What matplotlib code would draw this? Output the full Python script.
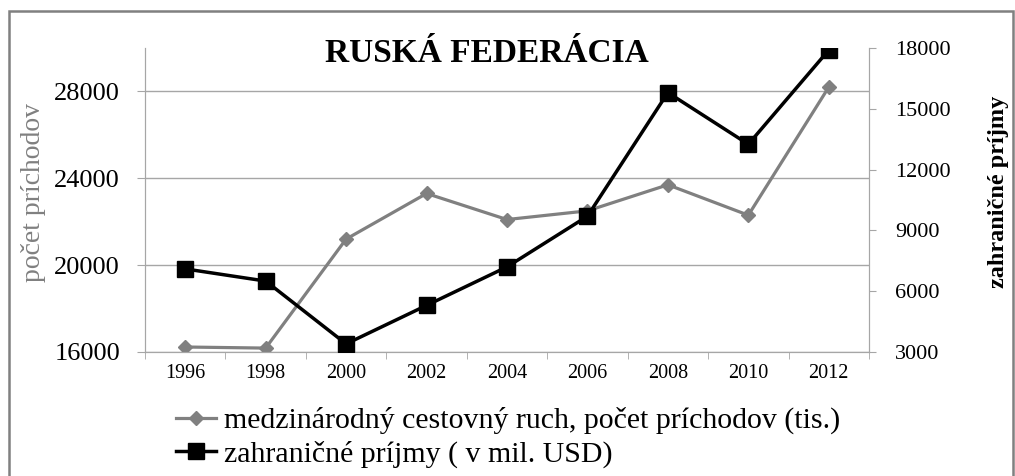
import matplotlib.pyplot as plt
from matplotlib.patches import Rectangle
from matplotlib.lines import Line2D

years = ["1996", "1998", "2000", "2002", "2004", "2006", "2008", "2010", "2012"]
arrivals = [16230, 16180, 21200, 23300, 22100, 22500, 23700, 22300, 28200]
receipts = [7100, 6500, 3400, 5300, 7200, 9700, 15800, 13250, 17900]
left_ticks = [16000, 20000, 24000, 28000]
right_ticks = [3000, 6000, 9000, 12000, 15000, 18000]

GRAY = "#808080"
AXGRAY = "#a6a6a6"
plt.rcParams["font.family"] = ["Liberation Serif", "DejaVu Serif"]

fig = plt.figure(figsize=(10.15, 4.76), dpi=100)
fig.patches.append(Rectangle((9 / 1015, -0.05), 1004 / 1015, 1.05 - 11 / 476,
                             transform=fig.transFigure, fill=False,
                             edgecolor=GRAY, linewidth=1.8))

ax = fig.add_axes([145 / 1015, 124 / 476, 724 / 1015, 304 / 476])
ax2 = ax.twinx()

x = list(range(len(years)))
ax.plot(x, arrivals, color=GRAY, lw=2.3, marker="D", ms=7.5, zorder=3)
ax2.plot(x, receipts, color="black", lw=2.5, marker="s", ms=11, zorder=4)

ax.set_xlim(-0.5, len(years) - 0.5)
ax.set_ylim(16000, 30000)
ax.set_yticks(left_ticks)
ax2.set_ylim(3000, 18000)
ax2.set_yticks(right_ticks)
ax.grid(axis="y", color=AXGRAY, lw=1)
ax.set_axisbelow(True)

ax.set_xticks(x)
ax.set_xticklabels(years, fontsize=14.5)
ax.set_xticks([i - 0.5 for i in range(len(years) + 1)], minor=True)
ax.tick_params(axis="x", which="major", length=0, pad=9)
ax.tick_params(axis="x", which="minor", length=5, color=AXGRAY, direction="out")
ax.tick_params(axis="y", labelsize=19, length=6, color=AXGRAY, pad=12)
ax2.tick_params(axis="y", labelsize=16, length=5, color=AXGRAY, pad=14)

for a in (ax, ax2):
    a.spines["top"].set_visible(False)
    for s in ("left", "right", "bottom"):
        a.spines[s].set_color(AXGRAY)

ax.set_ylabel("počet príchodov", color=GRAY, fontsize=20)
ax.yaxis.set_label_coords(-0.137, 0.526)
ax2.set_ylabel("zahraničné príjmy", color="black", fontsize=17.5,
               fontweight="bold")
ax2.yaxis.set_label_coords(1.165, 0.526)

fig.text(487 / 1015, 1 - 53 / 476, "RUSKÁ FEDERÁCIA", fontsize=24,
         fontweight="bold", ha="center", va="center")

handles = [
    Line2D([], [], color=GRAY, lw=2.3, marker="D", ms=7.5),
    Line2D([], [], color="black", lw=2.5, marker="s", ms=11),
]
labels = ["medzinárodný cestovný ruch, počet príchodov (tis.)",
          "zahraničné príjmy ( v mil. USD)"]
fig.legend(handles, labels, loc="upper left",
           bbox_to_anchor=(176 / 1015, 1 - 407 / 476),
           frameon=False, fontsize=21.5, handlelength=1.35, handletextpad=0.25,
           labelspacing=0.2, borderaxespad=0, borderpad=0)

fig.savefig("out.png", dpi=100)
